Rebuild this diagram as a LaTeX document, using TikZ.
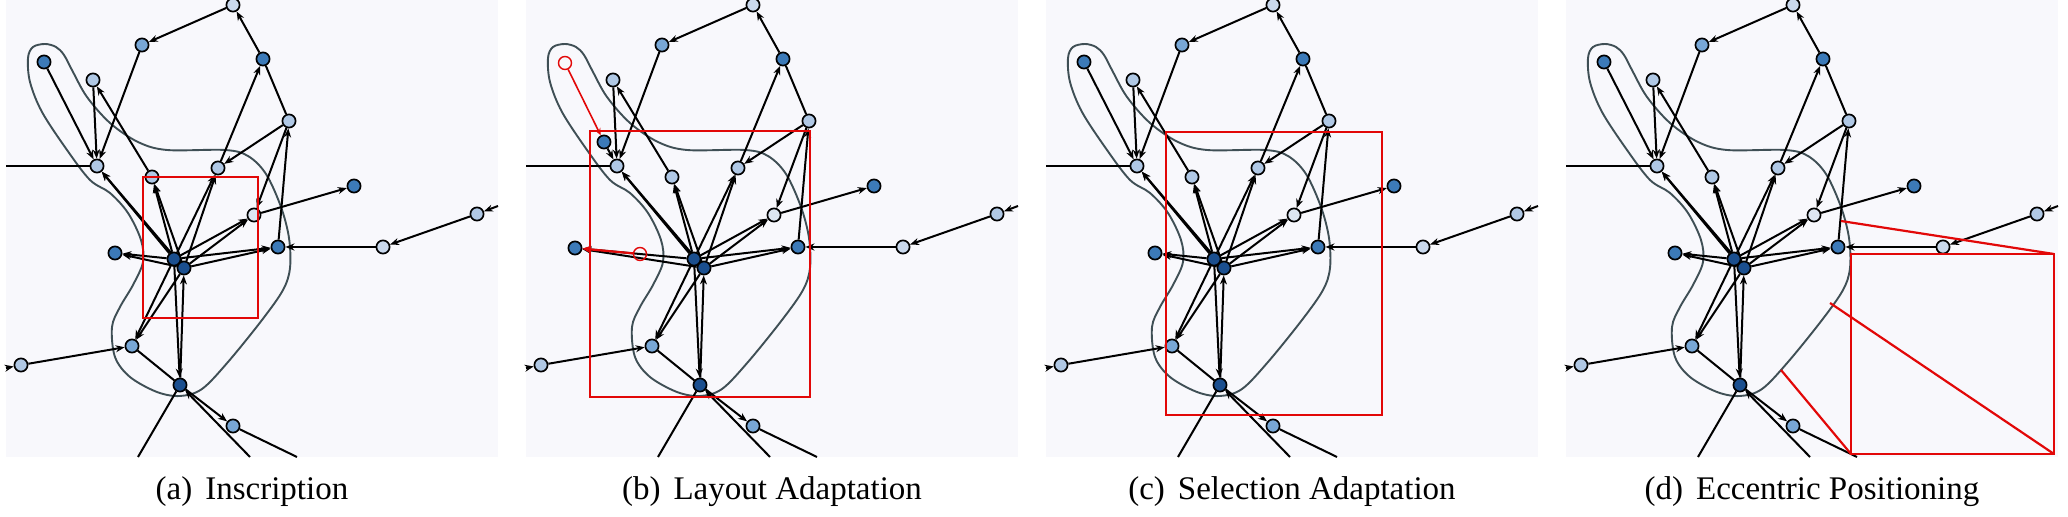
\documentclass[tikz,border=0pt]{standalone}
\usepackage{fontspec}
\setmainfont{Liberation Serif}
\usetikzlibrary{arrows.meta}
\definecolor{panelbg}{RGB}{248,248,252}
\definecolor{ctop}{RGB}{202,217,237}
\definecolor{clight}{RGB}{176,200,229}
\definecolor{cvlight}{RGB}{221,230,242}
\definecolor{cmidl}{RGB}{120,167,214}
\definecolor{cmid}{RGB}{60,122,184}
\definecolor{cdark}{RGB}{27,79,143}
\definecolor{hullc}{RGB}{63,79,85}
\definecolor{redc}{RGB}{226,8,8}
\pgfdeclarelayer{bglayer}
\pgfdeclarelayer{edgelayer}
\pgfsetlayers{bglayer,edgelayer,main}
\tikzset{
  vtx/.style={circle, draw=black, line width=0.85pt, minimum size=6.6pt, inner sep=0pt},
  edg/.style={draw=black, line width=1pt},
  arr/.style={edg, -{Stealth[length=4.5pt,width=3.5pt]}},
  hull/.style={draw=hullc, line width=0.95pt},
  redbox/.style={draw=redc, line width=1.1pt},
  redline/.style={draw=redc, line width=0.8pt},
  ghost/.style={circle, draw=redc, line width=0.7pt, minimum size=6.5pt, inner sep=0pt},
  captext/.style={font=\fontsize{16.5}{18}\selectfont, anchor=base},
}
\newcommand\GraphBody[2]{%
  \begin{pgfonlayer}{bglayer}
    \fill[panelbg] (6,0) rectangle (498,457);
    \draw[hull] plot[smooth cycle, tension=0.55] coordinates {
      (33,47) (45,44) (56,47) (64,55) (73,72) (87,97) (110,123) (138,142)
      (167,150) (225,150) (248,156) (266,174) (281,207) (289,238) (290,268)
      (283,290) (262,320) (228,362) (202,389) (180,396) (157,392) (130,377)
      (115,357) (112,327) (120,307) (133,285) (143,262) (141,240) (128,213)
      (110,193) (90,180) (67,150) (42,112) (30,82) (28,58)};
  \end{pgfonlayer}
  \node[vtx, fill=ctop]   (N1)  at (233,5)   {};
  \node[vtx, fill=cmidl]  (N2)  at (142,45)  {};
  \node[vtx, fill=cmid]   (N3)  at #1        {};
  \node[vtx, fill=clight] (N4)  at (93,80)   {};
  \node[vtx, fill=cmid]   (N5)  at (263,59)  {};
  \node[vtx, fill=clight] (N6)  at (289,121) {};
  \node[vtx, fill=clight] (N7)  at (97,166)  {};
  \node[vtx, fill=clight] (N8)  at (152,177) {};
  \node[vtx, fill=clight] (N9)  at (218,168) {};
  \node[vtx, fill=cmid]   (N10) at (354,186) {};
  \node[vtx, fill=cvlight](N11) at (254,215) {};
  \node[vtx, fill=clight] (N12) at (477,214) {};
  \node[vtx, fill=ctop]   (N13) at (383,247) {};
  \node[vtx, fill=cmid]   (N14) at (278,247) {};
  \node[vtx, fill=cmid]   (N15) at #2        {};
  \node[vtx, fill=cdark]  (H1)  at (174,259) {};
  \node[vtx, fill=cdark]  (H2)  at (184,268) {};
  \node[vtx, fill=cmidl]  (N16) at (132,346) {};
  \node[vtx, fill=clight] (N17) at (21,365)  {};
  \node[vtx, fill=cdark]  (N18) at (180,385) {};
  \node[vtx, fill=cmidl]  (N19) at (233,426) {};
  \coordinate (Ol)  at (6,166);
  \coordinate (Or)  at (498,206);
  \coordinate (Ol2) at (6,368);
  \coordinate (Ob1) at (138,457);
  \coordinate (Ob2) at (250,457);
  \coordinate (Ob3) at (297,457);
  \begin{pgfonlayer}{edgelayer}
    \draw[arr] (N1) -- (N2);
    \draw[arr] (N5) -- (N1);
    \draw[arr] (N9) -- (N5);
    \draw[edg] (N6) -- (N5);
    \draw[arr] (N3) -- (N7);
    \draw[arr] (N4) -- (N7);
    \draw[arr] (N2) -- (N7);
    \draw[arr] (N8) -- (N4);
    \draw[arr] (H1) -- (N7);
    \draw[arr] (H2) -- (N7);
    \draw[arr] (H1) -- (N8);
    \draw[arr] (H2) -- (N8);
    \draw[arr] (H1) -- (N9);
    \draw[arr] (H2) -- (N9);
    \draw[arr] (N6) -- (N9);
    \draw[arr] (N6) -- (N11);
    \draw[arr] (N14) -- (N6);
    \draw[arr] (H1) -- (N11);
    \draw[arr] (H2) -- (N11);
    \draw[arr] (N11) -- (N10);
    \draw[arr] (H1) -- (N14);
    \draw[arr] (H2) -- (N14);
    \draw[arr] (N13) -- (N14);
    \draw[arr] (N12) -- (N13);
    \draw[arr] (Or) -- (N12);
    \draw[edg] (Ol) -- (N7);
    \draw[arr] (H1) -- (N15);
    \draw[arr] (H2) -- (N15);
    \draw[arr] (H1) -- (N16);
    \draw[arr] (H2) -- (N16);
    \draw[arr] (N17) -- (N16);
    \draw[arr] (Ol2) -- (N17);
    \draw[arr] (H1) -- (N18);
    \draw[arr] (N18) -- (H2);
    \draw[edg] (N16) -- (N18);
    \draw[arr] (N18) -- (N19);
    \draw[edg] (N18) -- (Ob1);
    \draw[arr] (Ob2) -- (N18);
    \draw[edg] (N19) -- (Ob3);
  \end{pgfonlayer}
}
\begin{document}
\begin{tikzpicture}[x=0.5pt, y=-0.5pt]
\useasboundingbox (0,0) rectangle (2068,517);
% (a)
\begin{scope}[name prefix=a-]
  \GraphBody{(44,62)}{(115,253)}
  \draw[redbox] (143,177) rectangle (258,318);
  \node[captext] (cap) at (252,500) {(a)\hspace{6.5pt}Inscription};
\end{scope}
% (b)
\begin{scope}[shift={(520,0)}, name prefix=b-]
  \GraphBody{(84,142)}{(55,248)}
  \node[ghost] (G3)  at (45,63)   {};
  \node[ghost] (G15) at (120,254) {};
  \draw[redline, -{Stealth[length=3.5pt,width=3pt]}] (G3) -- (N3);
  \draw[redline, line width=1.1pt, -{Stealth[length=4pt,width=3.5pt]}] (G15) -- (N15);
  \draw[redbox] (70,131) rectangle (290,397);
  \node[captext] (cap) at (252,500) {(b)\hspace{6.5pt}Layout Adaptation};
\end{scope}
% (c)
\begin{scope}[shift={(1040,0)}, name prefix=c-]
  \GraphBody{(44,62)}{(115,253)}
  \draw[redbox] (126,132) rectangle (342,415);
  \node[captext] (cap) at (252,500) {(c)\hspace{6.5pt}Selection Adaptation};
\end{scope}
% (d)
\begin{scope}[shift={(1560,0)}, name prefix=d-]
  \GraphBody{(44,62)}{(115,253)}
  \draw[redbox] (291,254) rectangle (494,454);
  \draw[redbox] (281,221) -- (494,254);
  \draw[redbox] (270,303) -- (494,454);
  \draw[redbox] (221,370) -- (291,454);
  \node[captext] (cap) at (252,500) {(d)\hspace{6.5pt}Eccentric Positioning};
\end{scope}
\end{tikzpicture}
\end{document}
